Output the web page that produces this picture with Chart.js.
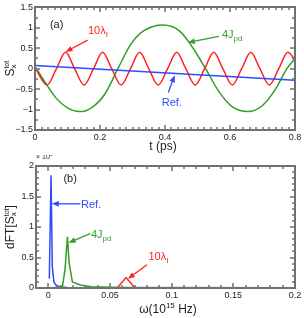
<!DOCTYPE html>
<html>
<head>
<meta charset="utf-8">
<script src="https://cdn.jsdelivr.net/npm/chart.js@4.4.0/dist/chart.umd.min.js"></script>
<style>
body{margin:0;background:#fff;width:304px;height:318px;overflow:hidden}
#boxA{position:absolute;left:0;top:0;width:304px;height:155px}
#boxB{position:absolute;left:0;top:155px;width:304px;height:163px}
</style>
</head>
<body>
<div id="boxA"><canvas id="chartA" width="304" height="155"></canvas></div>
<div id="boxB"><canvas id="chartB" width="304" height="163"></canvas></div>
<script>
// panel (a): S_x^tot vs t (ps)
const refT=[0,0.8]
const refS=[0.08,-0.28]
const jpdT=[0,0.03,0.065,0.1,0.137,0.175,0.215,0.255,0.295,0.335,0.395,0.445,0.485,0.525,0.565,0.605,0.655,0.7,0.74,0.775,0.8]
const jpdS=[0.05,-0.32,-0.72,-0.96,-1.05,-0.95,-0.62,0,0.6,0.93,1.07,0.92,0.52,0,-0.55,-0.92,-1.05,-0.9,-0.5,0,0.25]
const lamT=[0,0.037,0.066,0.094,0.122,0.151,0.18,0.208,0.236,0.265,0.294,0.322,0.35,0.379,0.408,0.436,0.464,0.493,0.522,0.55,0.578,0.607,0.636,0.664,0.692,0.721,0.75,0.778,0.8]
const lamS=[0.03,-0.4,0,0.4,0,-0.4,0,0.4,0,-0.4,0,0.4,0,-0.4,0,0.4,0,-0.4,0,0.4,0,-0.4,0,0.4,0,-0.4,0,0.4,0.22]
const ticksAx=[0,0.2,0.4,0.6,0.8]
const ticksAy=[-1.5,-1,-0.5,0,0.5,1,1.5]

// panel (b): dFT (x 10^6) vs omega (10^15 Hz)
const wRef=[0.0008,0.0022,0.0032,0.0045,0.006,0.009,0.015,0.03,0.2]
const ftRef=[0.15,1.85,0.35,0.1,0.05,0.02,0.01,0.003,0]
const wJpd=[0.005,0.0115,0.0135,0.0155,0.0168,0.0195,0.026,0.035,0.06,0.2]
const ftJpd=[0.01,0.03,0.3,0.84,0.42,0.1,0.05,0.02,0.01,0.005]
const wLam=[0.005,0.03,0.056,0.063,0.07,0.1,0.2]
const ftLam=[0.003,0.004,0.006,0.17,0.006,0.003,0.003]
const ticksBx=[0,0.05,0.1,0.15,0.2]
const ticksBy=[0,0.5,1,1.5,2]

const BLUE='#2f4bff', RED='#ff1f1f', GREEN='#2f9f26'
const FONT='"Liberation Sans", Arial, Helvetica, sans-serif'

const fmt=v=>(v<0?'\u2212':'')+String(Math.abs(+(+v).toFixed(3)))

const lineSet=(xs,ys,color,order,smooth)=>({
    data:xs.map((x,i)=>({x:x,y:ys[i]})),
    borderColor:color,
    borderWidth:1.5,
    pointRadius:0,
    fill:false,
    order:order,
    tension:smooth?0.4:0,
    cubicInterpolationMode:smooth?'monotone':'default'
})

// texto con sub/superindices: partes [texto, tamaño, dy, avanza]
const rich=(ctx,parts,x,y,color,align)=>{
    let cx=0, w=0
    const segs=parts.map(p=>{
        ctx.font=p[1]+'px '+FONT
        const wid=ctx.measureText(p[0]).width
        const s={t:p[0],size:p[1],dy:p[2],x:cx}
        w=Math.max(w,cx+wid)
        if(p[3]!==false) cx+=wid
        return s
    })
    const x0=align==='center'?x-w/2:x
    ctx.fillStyle=color
    ctx.textBaseline='alphabetic'
    ctx.textAlign='left'
    segs.forEach(s=>{
        ctx.font=s.size+'px '+FONT
        ctx.fillText(s.t,x0+s.x,y+s.dy)
    })
}

const arrow=(ctx,x1,y1,x2,y2,color)=>{
    const a=Math.atan2(y2-y1,x2-x1)
    const L=7, H=2.8
    ctx.strokeStyle=color
    ctx.fillStyle=color
    ctx.lineWidth=1.3
    ctx.beginPath()
    ctx.moveTo(x1,y1)
    ctx.lineTo(x2-L*0.8*Math.cos(a),y2-L*0.8*Math.sin(a))
    ctx.stroke()
    ctx.beginPath()
    ctx.moveTo(x2,y2)
    ctx.lineTo(x2-L*Math.cos(a)+H*Math.sin(a),y2-L*Math.sin(a)-H*Math.cos(a))
    ctx.lineTo(x2-L*Math.cos(a)-H*Math.sin(a),y2-L*Math.sin(a)+H*Math.cos(a))
    ctx.closePath()
    ctx.fill()
}

const makeDeco=spec=>({
    id:'deco'+spec.name,
    afterDraw(chart){
        const ctx=chart.ctx
        const area=chart.chartArea
        const xs=chart.scales.x, ys=chart.scales.y
        ctx.save()
        // marco y marcas hacia dentro
        const L=Math.round(area.left), R=Math.round(area.right)
        const T=Math.round(area.top), B=Math.round(area.bottom)
        ctx.strokeStyle='#707070'
        ctx.lineWidth=2
        ctx.strokeRect(L,T,R-L,B-T)
        ctx.lineWidth=1.5
        ctx.beginPath()
        const near=(v,arr)=>arr.some(m=>Math.abs(m-v)<1e-9)
        const nx=Math.round((spec.xMax-spec.xMin)/spec.xMinor)
        for(let i=0;i<=nx;i++){
            const vv=+(spec.xMin+i*spec.xMinor).toFixed(6)
            const px=Math.round(xs.getPixelForValue(vv))
            const len=near(vv,spec.xMajor)?5:3
            ctx.moveTo(px,B);ctx.lineTo(px,B-len)
            ctx.moveTo(px,T);ctx.lineTo(px,T+len)
        }
        const ny=Math.round((spec.yMax-spec.yMin)/spec.yMinor)
        for(let i=0;i<=ny;i++){
            const vv=+(spec.yMin+i*spec.yMinor).toFixed(6)
            const py=Math.round(ys.getPixelForValue(vv))
            const len=near(vv,spec.yMajor)?5:3
            ctx.moveTo(L,py);ctx.lineTo(L+len,py)
            ctx.moveTo(R,py);ctx.lineTo(R-len,py)
        }
        ctx.stroke()
        // titulos de ejes
        rich(ctx,spec.xTitle.parts,spec.xTitle.x,spec.xTitle.y,'#222','center')
        ctx.save()
        ctx.translate(spec.yTitle.x,(area.top+area.bottom)/2)
        ctx.rotate(-Math.PI/2)
        rich(ctx,spec.yTitle.parts,0,0,'#222','center')
        ctx.restore()
        // anotaciones
        spec.texts.forEach(a=>rich(ctx,a.parts,xs.getPixelForValue(a.at[0]),ys.getPixelForValue(a.at[1]),a.color,'left'))
        spec.arrows.forEach(a=>arrow(ctx,xs.getPixelForValue(a.from[0]),ys.getPixelForValue(a.from[1]),
            xs.getPixelForValue(a.to[0]),ys.getPixelForValue(a.to[1]),a.color))
        if(spec.extra) spec.extra(ctx,area)
        ctx.restore()
    }
})

const axis=(min,max,tickList,fit)=>({
    type:'linear',
    min:min,
    max:max,
    afterBuildTicks:s=>{s.ticks=tickList.map(v=>({value:v}))},
    afterFit:fit,
    grid:{display:false,drawTicks:false},
    border:{display:false},
    ticks:{padding:2,autoSkip:false,maxRotation:0,color:'#222',font:{size:9,family:FONT},callback:fmt}
})

const specA={
    name:'A',
    xMin:0, xMax:0.8, yMin:-1.5, yMax:1.5,
    xMinor:0.02, yMinor:0.25, xMajor:ticksAx, yMajor:ticksAy,
    xTitle:{x:163,y:150,parts:[['t (ps)',12,0]]},
    yTitle:{x:13.5,parts:[['S',12,0],['x',8,2.5,false],['tot',7,-4.5]]},
    texts:[
        {at:[0.046,0.99],color:'#222',parts:[['(a)',11,0]]},
        {at:[0.163,0.85],color:RED,parts:[['10\u03bb',11,0],['I',8,3]]},
        {at:[0.575,0.75],color:GREEN,parts:[['4J',11,0],['pd',8,3]]},
        {at:[0.39,-0.92],color:BLUE,parts:[['Ref.',11,0]]}
    ],
    arrows:[
        {from:[0.162,0.70],to:[0.094,0.41],color:RED},
        {from:[0.566,0.79],to:[0.47,0.64],color:GREEN},
        {from:[0.41,-0.58],to:[0.43,-0.16],color:BLUE}
    ]
}

const specB={
    name:'B',
    xMin:-0.01, xMax:0.2, yMin:0, yMax:2,
    xMinor:0.01, yMinor:0.1, xMajor:ticksBx, yMajor:ticksBy,
    xTitle:{x:168,y:158,parts:[['\u03c9(10',12,0],['15',8,-5],[' Hz)',12,0]]},
    yTitle:{x:13.5,parts:[['dFT[S',12,0],['x',8,2.5,false],['tot',7,-4.5],[']',12,0]]},
    texts:[
        {at:[0.0122,1.73],color:'#222',parts:[['(b)',11,0]]},
        {at:[0.0265,1.31],color:BLUE,parts:[['Ref.',11,0]]},
        {at:[0.0346,0.82],color:GREEN,parts:[['4J',11,0],['pd',8,3]]},
        {at:[0.0812,0.46],color:RED,parts:[['10\u03bb',11,0],['I',8,3]]}
    ],
    arrows:[
        {from:[0.0259,1.38],to:[0.0028,1.38],color:BLUE},
        {from:[0.034,0.89],to:[0.0164,0.74],color:GREEN},
        {from:[0.08,0.38],to:[0.0645,0.15],color:RED}
    ],
    extra:(ctx,area)=>{
        rich(ctx,[['\u00d7 10',7,0],['6',5,-3]],area.left,area.top-7,'#222','left')
    }
}

const baseOptions=(pad,scales)=>({
    responsive:false,
    maintainAspectRatio:false,
    animation:false,
    layout:{padding:pad},
    plugins:{legend:{display:false},tooltip:{enabled:false}},
    scales:scales
})

new Chart('chartA',{
    type:'line',
    data:{datasets:[
        lineSet(refT,refS,BLUE,0,false),
        lineSet(lamT,lamS,RED,1,true),
        lineSet(jpdT,jpdS,GREEN,2,true)
    ]},
    options:baseOptions({top:6,right:9,left:0,bottom:0},{
        x:axis(0,0.8,ticksAx,s=>{s.height=25}),
        y:axis(-1.5,1.5,ticksAy,s=>{s.width=35})
    }),
    plugins:[makeDeco(specA)]
})

new Chart('chartB',{
    type:'line',
    data:{datasets:[
        lineSet(wJpd,ftJpd,GREEN,0,false),
        lineSet(wRef,ftRef,BLUE,1,false),
        lineSet(wLam,ftLam,RED,2,false)
    ]},
    options:baseOptions({top:11,right:9,left:0,bottom:0},{
        x:axis(-0.01,0.2,ticksBx,s=>{s.height=30}),
        y:axis(0,2,ticksBy,s=>{s.width=36})
    }),
    plugins:[makeDeco(specB)]
})
</script>
</body>
</html>
